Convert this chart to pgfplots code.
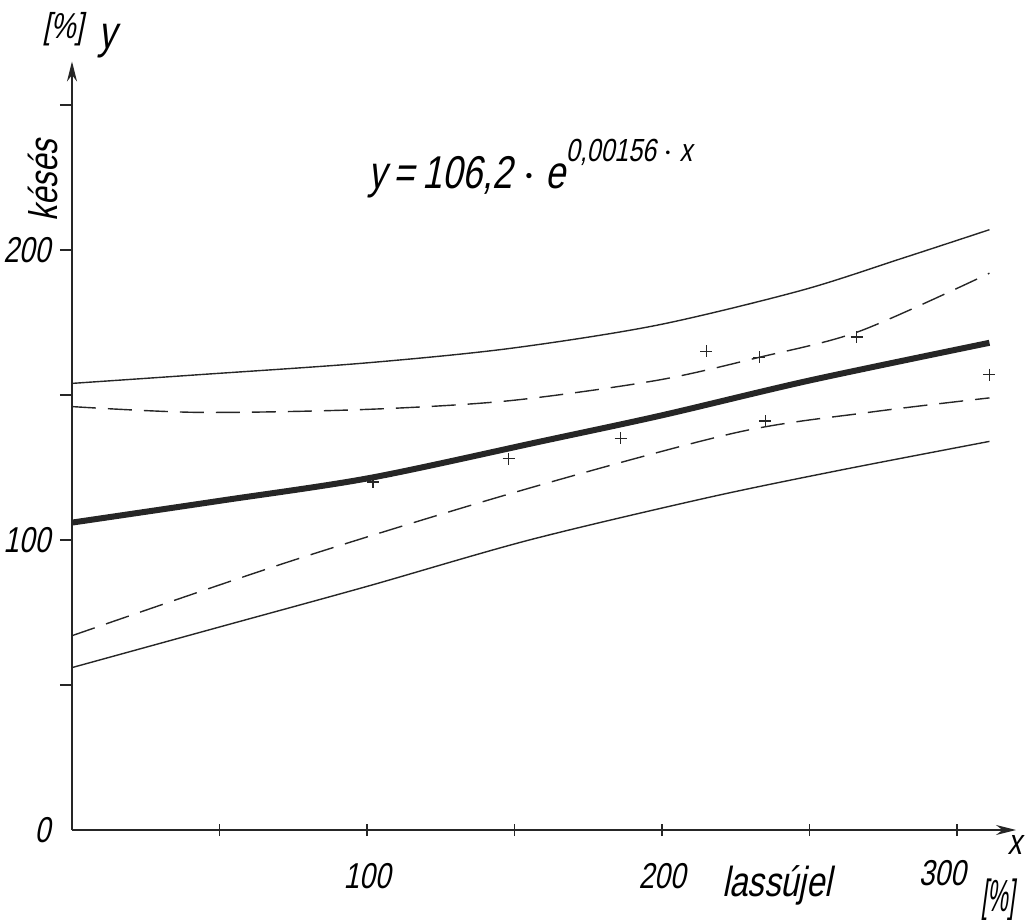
\documentclass[border=0pt]{standalone}
\usepackage{pgfplots}
\pgfplotsset{compat=1.18}
\usetikzlibrary{arrows.meta}
\usepackage{fontspec}
\newfontfamily\hand[FakeStretch=0.78,FakeSlant=0.2]{Liberation Sans}
\begin{document}
\begin{tikzpicture}
\path[use as bounding box] (-36pt,-45pt) rectangle (477.5pt,415pt);
\begin{axis}[
  anchor=origin, at={(0,0)},
  x=1.475pt, y=1.45pt,
  xmin=0, xmax=320, ymin=0, ymax=265,
  axis lines=left,
  axis line style={line width=0.9pt, black!85, -{Stealth[length=10pt,width=5pt]}},
  xtick={50,100,...,300}, ytick={50,100,...,250},
  xticklabels={}, yticklabels={},
  major tick length=6pt,
  tick style={black!85, line width=0.7pt},
  xtick align=center, ytick align=outside,
  clip=false,
  font=\hand,
]
\addplot[black!85, line width=0.7pt, smooth] coordinates {
 (0,154) (43,157) (99,161) (148,166) (198,174) (247,186) (281,197) (311,207)};
\addplot[black!85, line width=0.7pt, dash pattern=on 12pt off 6pt, smooth] coordinates {
 (0,146) (43,144) (99,145) (148,148) (198,155) (233,163) (267,172) (311,192)};
\addplot[black!85, line width=3pt, smooth] coordinates {
 (0,106) (50,113.5) (101,121.4) (159,134) (200,143) (250,155) (311,168)};
\addplot[black!85, line width=0.7pt, dash pattern=on 12pt off 6pt, smooth] coordinates {
 (0,67) (75,93) (152,117) (225,137) (270,144) (311,149)};
\addplot[black!85, line width=0.7pt, smooth] coordinates {
 (0,56) (50,70) (100,84) (155,100) (215,114.5) (260,124) (311,134)};
\addplot[only marks, mark=+, mark size=3pt, black!85, line width=0.7pt] coordinates {
 (102,120) (148,128) (186,135) (215,165) (233,163) (235,141) (266,170) (311,157)};
% labels
\node[font=\hand\fontsize{18}{20}\selectfont, anchor=east] at (axis cs:-5,0) {0};
\node[font=\hand\fontsize{18}{20}\selectfont, anchor=east] at (axis cs:-5,100) {100};
\node[font=\hand\fontsize{18}{20}\selectfont, anchor=east] at (axis cs:-5,200) {200};
\node[font=\hand\fontsize{18}{20}\selectfont] at (axis cs:100,-16) {100};
\node[font=\hand\fontsize{18}{20}\selectfont] at (axis cs:200,-16) {200};
\node[font=\hand\fontsize{18}{20}\selectfont] at (axis cs:295,-15) {300};
\node[font=\hand\fontsize{21}{24}\selectfont] at (axis cs:239,-19) {lassújel};
\node[font=\hand\fontsize{15}{18}\selectfont] at (axis cs:314,-24) {\scalebox{1}[1.5]{[\%]}};
\node[font=\hand\fontsize{18}{20}\selectfont] at (axis cs:319.5,-5) {x};
\node[font=\hand\fontsize{18}{20}\selectfont] at (axis cs:-3,276) {[\%]};
\node[font=\hand\fontsize{23}{26}\selectfont] at (axis cs:12,272) {y};
\node[font=\hand\fontsize{20}{22}\selectfont, rotate=90] at (axis cs:-10,224) {késés};
\node[font=\hand\fontsize{23}{26}\selectfont, anchor=west] at (axis cs:98,228) {y\,=\,106,2 $\cdot$ e\raisebox{0.6em}{\fontsize{16}{18}\selectfont 0,00156 $\cdot$ x}};
\end{axis}
\end{tikzpicture}
\end{document}
